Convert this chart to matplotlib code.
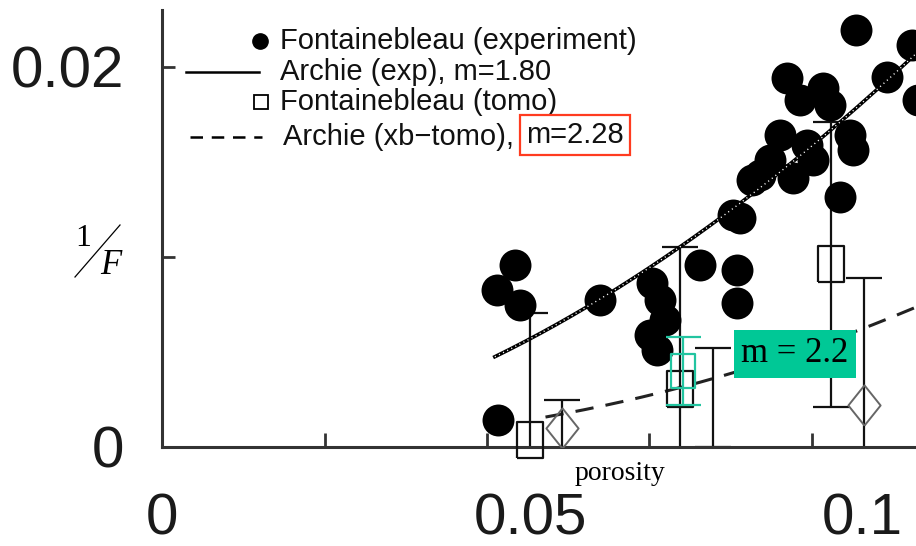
import numpy as np
import matplotlib.pyplot as plt
from matplotlib.lines import Line2D
from matplotlib.transforms import ScaledTranslation

# Fontainebleau sandstone: measured 1/F against porosity
exp_phi = [0.0515, 0.0543, 0.0551, 0.0517, 0.0674, 0.0754, 0.0766, 0.0774, 0.0751, 0.0762,
           0.0828, 0.0885, 0.0885, 0.0878, 0.0908, 0.0920, 0.0889, 0.0951, 0.0971, 0.0992,
           0.1002, 0.0962, 0.1017, 0.1058, 0.1063, 0.1043, 0.1115, 0.1068, 0.1163, 0.1154,
           0.0935, 0.0982, 0.1028]
exp_invF = [0.00826, 0.00958, 0.00747, 0.00142, 0.00774, 0.00863, 0.00774, 0.00668, 0.00589, 0.00511,
            0.00958, 0.00932, 0.00758, 0.01221, 0.01405, 0.01432, 0.01205, 0.01642, 0.01416, 0.01589,
            0.01511, 0.01942, 0.01889, 0.01642, 0.01563, 0.01316, 0.01947, 0.02195, 0.01826, 0.02116,
            0.01511, 0.01826, 0.01800]

# tomography estimates with error bars
tomo_phi = [0.0566, 0.0797, 0.1029]
tomo_invF = [0.00037, 0.00305, 0.00963]
tomo_err = [0.0067, 0.0075, 0.0075]

# highlighted estimate
hl_phi = [0.0801]
hl_invF = [0.0040]
hl_err = [0.0018]

# diamond estimates
dia_phi = [0.0616, 0.1080]
dia_invF = [0.0010, 0.0022]
dia_err = [0.0015, 0.0067]

# error bar with no marker shown
bar_phi = [0.0848]
bar_invF = [0.0026]
bar_err = [0.0026]

m_exp = 1.80
m_tomo = 2.28
m_fit = 2.2

teal = '#22c4a0'
W, H = 916, 546


def fx(x):
    return x / W


def fy(y):
    return 1 - y / H


fig = plt.figure(figsize=(W / 100, H / 100), dpi=100)
ax = fig.add_axes([fx(162), fy(447), (W - 162) / W, 437 / H])
ax.set_xlim(0, 0.116)
ax.set_ylim(0, 0.023)
for s in ['top', 'right']:
    ax.spines[s].set_visible(False)
for s in ['left', 'bottom']:
    ax.spines[s].set_linewidth(2.2)
    ax.spines[s].set_color('#333333')

# measured points
ax.scatter(exp_phi, exp_invF, s=23 ** 2, c='black', linewidths=0, zorder=3)

# Archie law 1/F = phi^m
phi_a = np.linspace(0.0512, 0.118, 200)
ax.plot(phi_a, phi_a ** m_exp, color='black', lw=2.6, zorder=4)
ax.plot(phi_a, phi_a ** m_exp, color='white', lw=1.0, ls=(0, (0.8, 2.5)), zorder=5)
phi_t = np.linspace(0.059, 0.118, 200)
ax.plot(phi_t, phi_t ** m_tomo, color='#222222', lw=2.2, ls=(0, (6, 4)), zorder=2)

eb = dict(fmt='none', ecolor='#111111', elinewidth=1.6, capsize=13.3, capthick=1.6, zorder=2)
ax.errorbar(tomo_phi, tomo_invF, yerr=tomo_err, **eb)
ax.errorbar(dia_phi, dia_invF, yerr=dia_err, **eb)
ax.errorbar(bar_phi, bar_invF, yerr=bar_err, **eb)

rect = [(-0.37, -0.5), (0.37, -0.5), (0.37, 0.5), (-0.37, 0.5), (-0.37, -0.5)]
diam = [(0, -0.5), (0.4, 0), (0, 0.5), (-0.4, 0), (0, -0.5)]
ax.plot(tomo_phi, tomo_invF, ls='none', marker=rect, ms=26, mfc='none', mec='#111111',
        mew=1.6, clip_on=False, zorder=4)
ax.plot(dia_phi, dia_invF, ls='none', marker=diam, ms=29, mfc='none', mec='#666666',
        mew=1.4, zorder=4)

ax.errorbar(hl_phi, hl_invF, yerr=hl_err, fmt='none', ecolor=teal, elinewidth=1.6,
            capsize=12.6, capthick=1.6, zorder=6)
ax.plot(hl_phi, hl_invF, ls='none', marker=rect, ms=24, mfc='none', mec=teal, mew=1.6, zorder=6)

ax.text(0.0974, 0.0049, f'm = {m_fit}', family='Liberation Serif', fontsize=25,
        ha='center', va='center', zorder=7,
        bbox=dict(boxstyle='square,pad=0.22', fc='#00c896', ec='none'))

# ticks point inward; tick labels are large
ax.set_yticks([0, 0.01, 0.02])
ax.set_yticklabels(['0', '', '0.02'])
ax.set_xticks([0, 0.05, 0.1])
ax.set_xticklabels(['0', '0.05', '0.1'])
ax.set_xticks([0.025, 0.075], minor=True)
ax.tick_params(axis='y', direction='in', length=9, width=2, color='#333333', pad=27,
               labelsize=42, labelcolor='#1a1a1a')
ax.tick_params(axis='x', which='both', direction='in', length=10, width=2, color='#333333',
               pad=33, labelsize=42, labelcolor='#1a1a1a')
for lab in ax.get_xticklabels() + ax.get_yticklabels():
    lab.set_family('Liberation Sans')
for tick, dx in zip(ax.xaxis.get_major_ticks(), [0, 44, 50]):
    tick.label1.set_transform(tick.label1.get_transform()
                              + ScaledTranslation(dx / 100, 0, fig.dpi_scale_trans))

# axis labels
fig.text(fx(620), fy(473), 'porosity', family='Liberation Serif', fontsize=20,
         ha='center', va='center')
fig.text(fx(83), fy(239), '1', family='Liberation Serif', fontsize=23, ha='center', va='center')
fig.text(fx(111), fy(265), 'F', family='Liberation Serif', style='italic', fontsize=25,
         ha='center', va='center')
fig.add_artist(Line2D([fx(75), fx(120)], [fy(277), fy(225)], color='black', lw=0.9))

# legend
leg_font = dict(family='Liberation Sans', fontsize=21, color='#111111', va='center')
fig.add_artist(Line2D([fx(260)], [fy(41)], marker='o', ms=11, color='black', ls='none'))
fig.add_artist(Line2D([fx(186), fx(259)], [fy(72), fy(72)], color='black', lw=1.8))
fig.add_artist(Line2D([fx(261)], [fy(102)], marker='s', ms=10, mfc='none', mec='black',
                      mew=1.3, ls='none'))
fig.add_artist(Line2D([fx(190), fx(262)], [fy(137), fy(137)], color='black', lw=1.8,
                      ls=(0, (5, 3.5))))
fig.text(fx(280), fy(41), 'Fontainebleau (experiment)', **leg_font)
fig.text(fx(280), fy(72), f'Archie (exp), m={m_exp:.2f}', **leg_font)
fig.text(fx(280), fy(102), 'Fontainebleau (tomo)', **leg_font)
t4 = fig.text(fx(283), fy(137), 'Archie (xb\u2212tomo),', **leg_font)

renderer = fig.canvas.get_renderer()
x_end = t4.get_window_extent(renderer).x1
fig.text(x_end / W + fx(12), fy(135), f'm={m_tomo:.2f}',
         bbox=dict(boxstyle='square,pad=0.2', fc='none', ec='#ff3b1f', lw=1.6), **leg_font)

fig.savefig('out.png', dpi=100)
